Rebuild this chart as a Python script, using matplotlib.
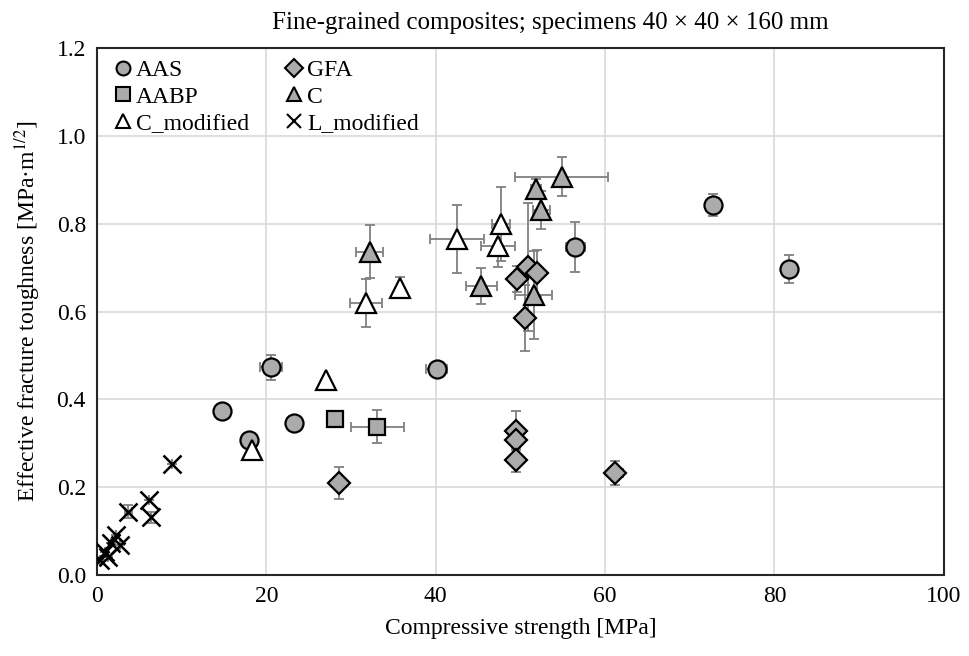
import matplotlib
matplotlib.use('Agg')
import matplotlib.pyplot as plt

plt.rcParams['font.family'] = ['Liberation Serif', 'DejaVu Serif']
plt.rcParams['mathtext.fontset'] = 'stix'

# series data: strength [MPa], toughness [MPa m^1/2], errors
aas_x = [14.8, 17.9, 20.6, 23.3, 40.1, 56.5, 72.7, 81.7]
aas_y = [0.374, 0.308, 0.473, 0.347, 0.468, 0.746, 0.842, 0.696]
aas_xerr = [0, 0, 1.3, 0, 1.2, 1.1, 0, 0]
aas_yerr = [0, 0, 0.028, 0, 0, 0.057, 0.025, 0.032]

aabp_x = [28.1, 33.1]
aabp_y = [0.355, 0.338]
aabp_xerr = [0, 3.1]
aabp_yerr = [0, 0.038]

gfa_x = [28.6, 49.5, 49.5, 49.5, 49.6, 50.5, 50.9, 52.0, 61.2]
gfa_y = [0.21, 0.329, 0.307, 0.262, 0.674, 0.585, 0.701, 0.687, 0.232]
gfa_xerr = [0, 0.4, 0, 0.4, 0.6, 0.5, 0, 0.6, 0.9]
gfa_yerr = [0.037, 0.045, 0, 0.028, 0.03, 0.076, 0.146, 0.052, 0.027]

c_x = [32.2, 45.4, 51.55, 51.85, 52.45, 54.9]
c_y = [0.736, 0.658, 0.638, 0.879, 0.831, 0.907]
c_xerr = [1.6, 1.8, 2.2, 0.6, 1.0, 5.5]
c_yerr = [0.06, 0.04, 0.1, 0.023, 0.043, 0.044]

cm_x = [18.3, 27.1, 31.8, 35.8, 42.5, 47.4, 47.7]
cm_y = [0.285, 0.444, 0.619, 0.654, 0.765, 0.749, 0.799]
cm_xerr = [0.5, 0, 1.9, 0, 3.15, 2.0, 1.1]
cm_yerr = [0.015, 0, 0.054, 0.024, 0.077, 0.047, 0.084]

lm_x = [0.4, 0.9, 1.3, 1.6, 2.3, 2.7, 3.7, 6.1, 6.4, 8.8]
lm_y = [0.035, 0.053, 0.042, 0.072, 0.091, 0.068, 0.144, 0.171, 0.131, 0.252]
lm_xerr = [0, 0, 0, 0, 0, 0, 0.4, 0, 0, 0]
lm_yerr = [0, 0, 0, 0, 0, 0, 0.015, 0, 0.012, 0]

series = [
    ('AAS', aas_x, aas_y, aas_xerr, aas_yerr, 'o', '#ababab', 13),
    ('AABP', aabp_x, aabp_y, aabp_xerr, aabp_yerr, 's', '#ababab', 12),
    ('C_modified', cm_x, cm_y, cm_xerr, cm_yerr, '^', 'white', 14),
    ('GFA', gfa_x, gfa_y, gfa_xerr, gfa_yerr, 'D', '#ababab', 11),
    ('C', c_x, c_y, c_xerr, c_yerr, '^', '#ababab', 14),
    ('L_modified', lm_x, lm_y, lm_xerr, lm_yerr, 'x', 'black', 13),
]

fig = plt.figure(figsize=(9.7, 6.56), dpi=100)
ax = fig.add_axes([0.100, 0.1235, 0.873, 0.8033])

for name, x, y, xe, ye, m, fc, ms in series:
    ax.errorbar(x, y, xerr=xe, yerr=ye, fmt='none', ecolor='#808080',
                elinewidth=1.3, capsize=3.5, capthick=1.3, zorder=2)
    ax.plot(x, y, linestyle='none', marker=m, markersize=ms,
            markerfacecolor=fc, markeredgecolor='black',
            markeredgewidth=1.8 if m == 'x' else 1.6, zorder=3)

handles = []
for name, x, y, xe, ye, m, fc, ms in series:
    h, = ax.plot([], [], linestyle='none', marker=m,
                 markersize=9 if m == 'D' else 10,
                 markerfacecolor=fc, markeredgecolor='black',
                 markeredgewidth=1.5, label=name)
    handles.append(h)
ax.legend(handles=handles, loc='upper left', ncol=2, frameon=False,
          fontsize=17, handletextpad=0.05, handlelength=1.0,
          columnspacing=1.4, labelspacing=0.2, borderaxespad=0.1,
          bbox_to_anchor=(0.003, 1.0))

ax.set_xlim(0, 100)
ax.set_ylim(0, 1.2)
ax.set_xticks([0, 20, 40, 60, 80, 100])
ax.set_yticks([0.0, 0.2, 0.4, 0.6, 0.8, 1.0, 1.2])
ax.set_yticklabels(['0.0', '0.2', '0.4', '0.6', '0.8', '1.0', '1.2'])
ax.tick_params(length=0, labelsize=17, pad=8)
ax.grid(True, color='#d9d9d9', linewidth=1.2)
ax.set_axisbelow(True)
for s in ax.spines.values():
    s.set_linewidth(1.5)
    s.set_color('#262626')

ax.set_xlabel('Compressive strength [MPa]', fontsize=17, labelpad=8)
ax.set_ylabel(r'Effective fracture toughness [MPa·m$^{1/2}$]', fontsize=17, labelpad=10)
ax.set_title('Fine-grained composites; specimens 40 × 40 × 160 mm', fontsize=18,
             pad=14, x=0.535)

fig.savefig('out.png', dpi=100)
